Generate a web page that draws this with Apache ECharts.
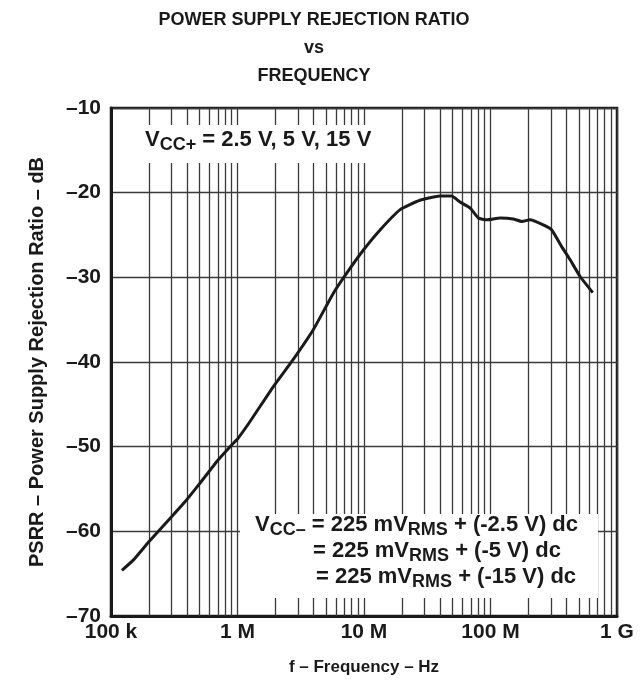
<!DOCTYPE html>
<html>
<head>
<meta charset="utf-8">
<script src="https://cdn.jsdelivr.net/npm/echarts@6/dist/echarts.min.js"></script>
<style>
  html, body {margin: 0; padding: 0; background: #fff;}
  #chart {width: 644px; height: 681px;}
</style>
</head>
<body>
<div id="chart"></div>
<script>
// frequency in Hz, PSRR in dB
const freqHz = [
    1.22e5, 1.5e5, 2.0e5, 3.0e5, 4.0e5, 5.0e5, 7.0e5, 9.0e5, 1.0e6, 1.26e6,
    1.92e6, 2.76e6, 3.97e6, 5.71e6, 7.3e6, 9.86e6, 1.34e7, 1.93e7, 2.77e7, 3.99e7,
    4.93e7, 5.74e7, 6.89e7, 8.02e7, 9.33e7, 1.19e8, 1.51e8, 1.77e8, 2.05e8, 2.61e8,
    3.05e8, 3.66e8, 4.25e8, 5.11e8, 6.43e8
];
const psrrDb = [
    -64.6, -63.4, -61.2, -58.3, -56.2, -54.4, -51.6, -49.8, -49.1, -47.0,
    -42.9, -39.7, -36.2, -31.9, -29.5, -26.8, -24.4, -22.0, -20.9, -20.4,
    -20.4, -21.1, -21.8, -23.0, -23.2, -23.0, -23.1, -23.4, -23.2, -23.8,
    -24.4, -26.4, -27.9, -29.9, -31.8
];

// axis ticks
const xTickValues = [1e5, 1e6, 1e7, 1e8, 1e9];
const xTickLabels = ['100 k', '1 M', '10 M', '100 M', '1 G'];
const minorDecades = [1e5, 1e6, 1e7, 1e8];
const minorSteps = [2, 3, 4, 5, 6, 7, 8, 9];

const FONT = "'Liberation Sans', Arial, Helvetica, sans-serif";
const INK = '#1a1a1a';
const GRID_COLOR = '#3a3a3a';

const minorLines = [];
minorDecades.forEach(d => {
    minorSteps.forEach(m => minorLines.push({xAxis: d * m}));
});

// rich text styles for the two notes (subscripts pushed down by padding)
const noteRich = {
    v: {fontFamily: FONT, fontWeight: 'bold', fontSize: 22, fill: INK},
    s: {fontFamily: FONT, fontWeight: 'bold', fontSize: 18, fill: INK, padding: [11, 0, 0, 0]},
    t: {fontFamily: FONT, fontWeight: 'bold', fontSize: 22, fill: INK}
};

const chart = echarts.init(document.getElementById('chart'));

const option = {
    animation: false,
    backgroundColor: '#fff',
    title: {
        text: 'POWER SUPPLY REJECTION RATIO\nvs\nFREQUENCY',
        left: 309,
        top: 1,
        textAlign: 'center',
        textStyle: {
            fontFamily: FONT,
            fontWeight: 'bold',
            fontSize: 18,
            lineHeight: 28,
            color: INK
        }
    },
    grid: {
        left: 111,
        right: 27,
        top: 108,
        bottom: 65,
        show: true,
        borderColor: INK,
        borderWidth: 2.5
    },
    xAxis: {
        type: 'log',
        logBase: 10,
        min: 1e5,
        max: 1e9,
        name: 'f – Frequency – Hz',
        nameLocation: 'middle',
        nameGap: 43,
        nameTextStyle: {
            fontFamily: FONT, fontWeight: 'bold', fontSize: 17, color: INK
        },
        axisLine: {lineStyle: {color: INK, width: 3}},
        axisTick: {show: false},
        axisLabel: {
            margin: 6,
            fontFamily: FONT, fontWeight: 'bold', fontSize: 21, color: INK,
            formatter: function (v) {
                for (let i = 0; i < xTickValues.length; i++) {
                    if (Math.abs(Math.log10(v) - Math.log10(xTickValues[i])) < 1e-6) return xTickLabels[i];
                }
                return '';
            }
        },
        splitLine: {show: true, lineStyle: {color: GRID_COLOR, width: 1.3}}
    },
    yAxis: {
        type: 'value',
        min: -70,
        max: -10,
        interval: 10,
        name: 'PSRR – Power Supply Rejection Ratio – dB',
        nameLocation: 'middle',
        nameRotate: 90,
        nameGap: 64,
        nameTextStyle: {
            fontFamily: FONT, fontWeight: 'bold', fontSize: 20, color: INK
        },
        axisLine: {show: true, lineStyle: {color: INK, width: 3}},
        axisTick: {show: false},
        axisLabel: {
            margin: 10,
            fontFamily: FONT, fontWeight: 'bold', fontSize: 21, color: INK,
            formatter: v => '–' + Math.abs(v)
        },
        splitLine: {show: true, lineStyle: {color: GRID_COLOR, width: 1.3}}
    },
    series: [
        {
            name: 'minor grid',
            type: 'line',
            data: [],
            silent: true,
            z: 1,
            markLine: {
                silent: true,
                symbol: ['none', 'none'],
                label: {show: false},
                lineStyle: {type: 'solid', color: GRID_COLOR, width: 1.3},
                emphasis: {disabled: true},
                data: minorLines
            }
        },
        {
            name: 'PSRR',
            type: 'line',
            z: 5,
            data: freqHz.map((f, i) => [f, psrrDb[i]]),
            showSymbol: false,
            smooth: 0.15,
            lineStyle: {color: INK, width: 3}
        }
    ],
    graphic: [
        // VCC+ note
        {type: 'rect', z: 50, shape: {x: 141, y: 125, width: 232, height: 38}, style: {fill: '#fff'}},
        {
            type: 'text', z: 51, left: 145, top: 129,
            style: {text: '{v|V}{s|CC+}{t| = 2.5 V, 5 V, 15 V}', rich: noteRich}
        },
        // VCC- note
        {type: 'rect', z: 50, shape: {x: 240, y: 514, width: 358, height: 84}, style: {fill: '#fff'}},
        {
            type: 'text', z: 51, left: 255, top: 514,
            style: {text: '{v|V}{s|CC–}{t| = 225 mV}{s|RMS}{t| + (-2.5 V) dc}', rich: noteRich}
        },
        {
            type: 'text', z: 51, left: 313, top: 540,
            style: {text: '{t|= 225 mV}{s|RMS}{t| + (-5 V) dc}', rich: noteRich}
        },
        {
            type: 'text', z: 51, left: 316, top: 566,
            style: {text: '{t|= 225 mV}{s|RMS}{t| + (-15 V) dc}', rich: noteRich}
        }
    ]
};

chart.setOption(option);
</script>
</body>
</html>
